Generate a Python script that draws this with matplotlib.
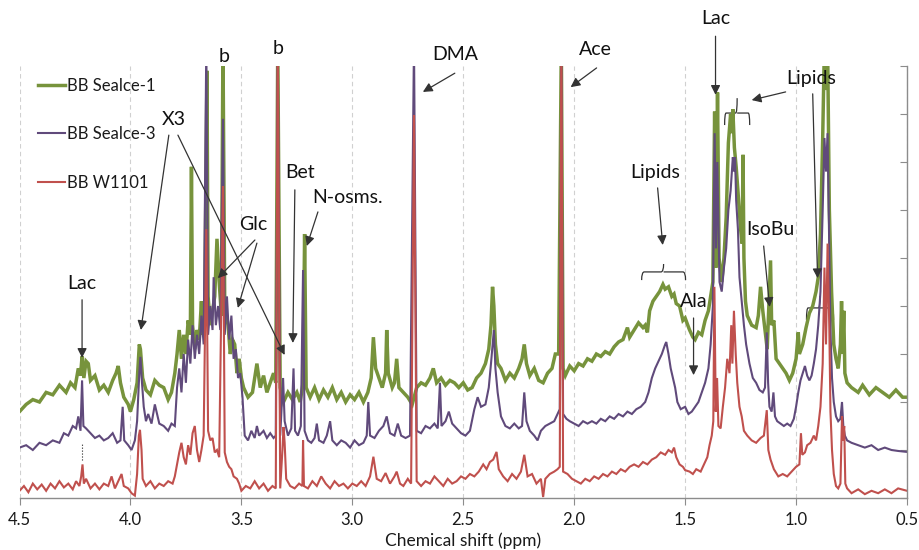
import matplotlib
matplotlib.use("Agg")
import matplotlib.pyplot as plt
from matplotlib.path import Path
from matplotlib.patches import PathPatch

plt.rcParams['font.family'] = ['Lato', 'DejaVu Sans']

# ---------------- data ----------------
series_names = ["BB Sealce-1", "BB Sealce-3", "BB W1101"]
series_colors = ["#77933C", "#604A7B", "#C0504D"]

green_ppm = [4.50, 4.47, 4.44, 4.41, 4.38, 4.35, 4.32, 4.29, 4.27, 4.25, 4.235, 4.225, 4.218, 4.21, 4.20, 4.19, 4.18,
             4.16, 4.14, 4.12, 4.10, 4.08, 4.065, 4.055, 4.045, 4.03, 4.01, 4.00, 3.985, 3.97, 3.96, 3.955, 3.945,
             3.93, 3.91, 3.89, 3.87, 3.85, 3.83, 3.815, 3.80, 3.79, 3.78, 3.77, 3.76, 3.75, 3.74, 3.73, 3.725, 3.72,
             3.71, 3.70, 3.69, 3.68, 3.675, 3.665, 3.655, 3.65, 3.64, 3.63, 3.62, 3.61, 3.60, 3.59, 3.583, 3.575,
             3.56, 3.55, 3.54, 3.53, 3.52, 3.51, 3.50, 3.49, 3.47, 3.45, 3.43, 3.415, 3.40, 3.385, 3.37, 3.355,
             3.345, 3.336, 3.325, 3.31, 3.29, 3.27, 3.25, 3.235, 3.222, 3.215, 3.208, 3.19, 3.17, 3.15, 3.13, 3.11,
             3.09, 3.07, 3.05, 3.03, 3.01, 2.99, 2.97, 2.95, 2.93, 2.915, 2.905, 2.895, 2.88, 2.865, 2.85, 2.845,
             2.838, 2.82, 2.81, 2.80, 2.79, 2.77, 2.75, 2.73, 2.71, 2.69, 2.67, 2.65, 2.635, 2.62, 2.60, 2.58,
             2.56, 2.54, 2.52, 2.50, 2.48, 2.46, 2.44, 2.42, 2.40, 2.385, 2.375, 2.368, 2.362, 2.355, 2.345, 2.33,
             2.31, 2.29, 2.27, 2.25, 2.235, 2.225, 2.215, 2.20, 2.18, 2.16, 2.14, 2.12, 2.10, 2.085, 2.07, 2.058,
             2.05, 2.04, 2.02, 2.00, 1.98, 1.96, 1.94, 1.92, 1.90, 1.88, 1.86, 1.84, 1.82, 1.80, 1.78, 1.76, 1.75,
             1.73, 1.71, 1.69, 1.68, 1.67, 1.66, 1.645, 1.63, 1.615, 1.60, 1.59, 1.575, 1.56, 1.55, 1.54, 1.525,
             1.51, 1.50, 1.48, 1.465, 1.455, 1.44, 1.425, 1.41, 1.395, 1.385, 1.375, 1.367, 1.361, 1.354, 1.347,
             1.335, 1.325, 1.315, 1.305, 1.295, 1.29, 1.285, 1.278, 1.27, 1.262, 1.25, 1.243, 1.239, 1.235, 1.228,
             1.22, 1.20, 1.18, 1.17, 1.16, 1.15, 1.14, 1.13, 1.115, 1.11, 1.10, 1.09, 1.075, 1.06, 1.045, 1.03,
             1.015, 1.00, 0.99, 0.985, 0.97, 0.955, 0.94, 0.925, 0.91, 0.90, 0.89, 0.88, 0.872, 0.865, 0.858,
             0.85, 0.84, 0.83, 0.82, 0.81, 0.80, 0.795, 0.79, 0.785, 0.78, 0.77, 0.75, 0.72, 0.70, 0.67, 0.64,
             0.61, 0.58, 0.55, 0.52, 0.50]
green_int = [1.80, 1.95, 2.05, 2.00, 2.20, 2.15, 2.35, 2.20, 2.40, 2.30, 2.70, 2.55, 2.95, 2.50, 2.85, 2.80, 2.45,
             2.55, 2.25, 2.35, 2.20, 2.45, 2.60, 2.75, 2.40, 2.10, 1.95, 1.80, 2.05, 2.40, 3.20, 3.10, 2.50,
             2.25, 2.15, 2.45, 2.35, 2.30, 2.05, 2.20, 2.60, 3.00, 3.50, 2.90, 3.40, 3.00, 3.70, 3.40, 6.90, 3.60,
             3.10, 3.50, 3.30, 4.10, 3.40, 4.00, 8.90, 4.20, 3.60, 3.90, 4.20, 5.40, 4.50, 3.80, 9.50, 4.00,
             3.60, 3.00, 3.30, 3.20, 2.60, 2.90, 2.50, 2.30, 2.10, 2.20, 2.80, 2.30, 2.55, 2.20, 2.40, 2.60,
             2.40, 9.50, 2.30, 2.00, 2.20, 2.05, 2.20, 2.00, 2.40, 5.50, 2.30, 2.10, 2.30, 2.05, 2.25, 2.10,
             2.30, 2.05, 2.20, 2.00, 2.15, 2.05, 2.20, 2.00, 2.20, 2.50, 3.35, 2.70, 2.50, 2.30, 2.60, 3.50,
             2.60, 2.30, 2.40, 2.90, 2.30, 2.20, 2.10, 1.95, 2.30, 2.40, 2.35, 2.50, 2.70, 2.40, 2.50, 2.35,
             2.45, 2.40, 2.30, 2.40, 2.25, 2.30, 2.50, 2.60, 2.80, 3.10, 3.60, 4.40, 4.00, 3.20, 2.80, 2.70,
             2.45, 2.60, 2.50, 2.70, 2.90, 3.20, 2.80, 2.55, 2.70, 2.45, 2.40, 2.60, 2.70, 3.00, 3.00, 9.50,
             2.70, 2.55, 2.75, 2.65, 2.80, 2.75, 2.90, 2.85, 3.00, 2.95, 3.05, 3.00, 3.15, 3.25, 3.30, 3.55, 3.35,
             3.50, 3.65, 3.55, 3.60, 3.45, 3.90, 4.10, 4.20, 4.30, 4.45, 4.35, 4.40, 4.20, 4.25, 4.05, 4.00,
             3.70, 3.75, 3.50, 3.35, 3.30, 3.45, 3.40, 3.70, 3.90, 4.20, 4.50, 8.05, 4.80, 8.45, 5.00,
             4.50, 5.00, 5.85, 7.40, 8.00, 7.60, 8.10, 7.30, 6.90, 6.40, 5.60, 5.30, 7.15, 5.00, 4.10,
             3.80, 3.60, 3.55, 3.80, 4.40, 3.90, 3.50, 3.10, 4.95, 3.60, 3.70, 2.90, 2.80, 2.70, 2.60, 2.45,
             2.60, 2.90, 3.45, 3.00, 3.20, 3.55, 3.85, 4.00, 4.30, 4.60, 5.50, 7.50, 9.50, 8.50, 9.50,
             6.00, 4.30, 3.20, 2.90, 2.70, 3.20, 4.10, 3.00, 3.90, 2.60, 2.40, 2.30, 2.20, 2.35, 2.15, 2.30,
             2.20, 2.10, 2.25, 2.10, 2.10]

purple_ppm = [4.50, 4.47, 4.44, 4.41, 4.38, 4.35, 4.32, 4.30, 4.28, 4.26, 4.245, 4.235, 4.225, 4.218, 4.212, 4.20,
              4.18, 4.16, 4.14, 4.12, 4.10, 4.08, 4.06, 4.045, 4.035, 4.028, 4.01, 3.995, 3.98, 3.97, 3.96, 3.955,
              3.948, 3.94, 3.93, 3.92, 3.905, 3.89, 3.87, 3.85, 3.83, 3.815, 3.80, 3.79, 3.78, 3.77, 3.76, 3.75,
              3.74, 3.73, 3.72, 3.71, 3.70, 3.69, 3.68, 3.67, 3.658, 3.65, 3.64, 3.63, 3.625, 3.615, 3.605, 3.595,
              3.583, 3.575, 3.565, 3.555, 3.545, 3.535, 3.525, 3.515, 3.505, 3.495, 3.485, 3.47, 3.455, 3.44,
              3.43, 3.42, 3.40, 3.385, 3.37, 3.355, 3.345, 3.336, 3.325, 3.312, 3.305, 3.29, 3.275, 3.265, 3.258,
              3.245, 3.232, 3.222, 3.215, 3.20, 3.185, 3.17, 3.16, 3.15, 3.13, 3.115, 3.10, 3.09, 3.07, 3.05,
              3.03, 3.01, 2.99, 2.97, 2.95, 2.935, 2.928, 2.92, 2.90, 2.88, 2.86, 2.845, 2.83, 2.81, 2.795, 2.78,
              2.76, 2.74, 2.722, 2.71, 2.69, 2.67, 2.65, 2.63, 2.615, 2.605, 2.598, 2.58, 2.565, 2.55, 2.53,
              2.51, 2.49, 2.47, 2.45, 2.435, 2.42, 2.40, 2.385, 2.375, 2.362, 2.355, 2.345, 2.33, 2.31, 2.29,
              2.27, 2.25, 2.235, 2.225, 2.215, 2.20, 2.18, 2.165, 2.15, 2.13, 2.11, 2.09, 2.075, 2.065, 2.058,
              2.05, 2.035, 2.02, 2.00, 1.98, 1.96, 1.94, 1.92, 1.90, 1.88, 1.86, 1.84, 1.82, 1.80, 1.78, 1.76,
              1.74, 1.72, 1.70, 1.68, 1.665, 1.65, 1.635, 1.62, 1.605, 1.59, 1.585, 1.575, 1.565, 1.555, 1.545,
              1.535, 1.52, 1.50, 1.485, 1.47, 1.455, 1.44, 1.425, 1.41, 1.395, 1.385, 1.375, 1.367, 1.361, 1.355,
              1.345, 1.335, 1.325, 1.315, 1.305, 1.295, 1.285, 1.28, 1.275, 1.27, 1.262, 1.255, 1.245, 1.235,
              1.225, 1.21, 1.195, 1.18, 1.165, 1.15, 1.14, 1.132, 1.126, 1.12, 1.11, 1.102, 1.095, 1.085, 1.07,
              1.055, 1.04, 1.025, 1.01, 1.00, 0.99, 0.98, 0.97, 0.96, 0.95, 0.94, 0.93, 0.92, 0.91, 0.90, 0.89,
              0.88, 0.872, 0.865, 0.858, 0.85, 0.845, 0.838, 0.83, 0.82, 0.81, 0.80, 0.793, 0.787, 0.78, 0.77,
              0.75, 0.72, 0.69, 0.66, 0.63, 0.60, 0.57, 0.54, 0.50]
purple_int = [1.05, 1.10, 1.00, 1.15, 1.10, 1.20, 1.15, 1.35, 1.30, 1.50, 1.45, 1.70, 1.40, 2.45, 1.50, 1.45,
              1.35, 1.25, 1.30, 1.20, 1.25, 1.35, 1.15, 1.20, 1.90, 1.20, 1.10, 1.00, 1.20, 1.60, 2.60, 2.94,
              2.40, 1.90, 1.60, 1.75, 1.55, 1.95, 1.55, 1.50, 1.40, 1.55, 1.50, 2.30, 2.70, 2.20, 3.00, 2.40,
              3.30, 2.80, 3.60, 2.90, 3.40, 3.00, 3.80, 3.20, 9.50, 3.40, 4.00, 3.50, 4.60, 3.60, 4.00, 3.50,
              7.90, 3.40, 4.20, 3.30, 3.80, 2.90, 3.10, 2.50, 2.60, 2.10, 1.30, 1.20, 1.40, 1.25,
              1.50, 1.30, 1.40, 1.25, 1.35, 1.25, 1.30, 9.50, 1.30, 2.50, 1.60, 1.30, 1.45, 2.70, 1.40,
              1.30, 1.50, 4.75, 1.40, 1.20, 1.15, 1.25, 1.55, 1.20, 1.15, 1.30, 1.60, 1.20, 1.10, 1.20,
              1.15, 1.05, 1.20, 1.10, 1.15, 1.30, 2.00, 1.30, 1.25, 1.40, 1.50, 1.70, 1.35, 1.30, 1.55, 1.30,
              1.25, 1.30, 9.50, 1.40, 1.35, 1.50, 1.45, 1.55, 1.45, 2.40, 1.50, 1.60, 1.80, 1.55, 1.45,
              1.35, 1.30, 1.40, 1.85, 2.10, 1.90, 1.95, 2.30, 2.80, 3.50, 2.70, 2.20, 1.70, 1.50, 1.45,
              1.55, 1.45, 1.50, 2.20, 1.60, 1.40, 1.30, 1.20, 1.40, 1.50, 1.55, 1.60, 1.75, 1.85, 9.50,
              1.75, 1.65, 1.60, 1.55, 1.50, 1.60, 1.55, 1.60, 1.55, 1.65, 1.60, 1.70, 1.65, 1.75, 1.70, 1.80,
              1.75, 1.85, 1.90, 2.00, 2.20, 2.50, 2.70, 2.85, 3.00, 3.20, 3.25, 3.00, 2.70, 2.50, 2.30,
              2.00, 1.85, 1.90, 1.75, 1.80, 1.90, 2.00, 2.20, 2.40, 2.70, 3.20, 4.00, 7.60, 5.20, 7.00,
              4.50, 4.30, 4.80, 5.20, 6.00, 6.40, 7.10, 6.80, 7.10, 6.20, 5.60, 4.60, 4.10, 3.60,
              3.20, 2.80, 2.50, 2.40, 2.25, 2.20, 2.30, 3.45, 2.40, 1.90, 1.80, 2.20, 1.70, 1.60, 1.55,
              1.50, 1.55, 1.50, 1.65, 1.90, 2.20, 2.45, 2.60, 2.75, 2.55, 2.45, 2.55, 2.80, 3.10, 3.60, 4.30,
              6.00, 7.50, 6.80, 7.60, 5.00, 3.50, 2.50, 2.00, 1.70, 1.60, 1.65, 2.00, 1.50, 1.30, 1.20,
              1.15, 1.10, 1.05, 1.10, 1.00, 1.05, 1.00, 0.98, 0.96]

red_ppm = [4.50, 4.48, 4.46, 4.44, 4.42, 4.40, 4.38, 4.36, 4.34, 4.32, 4.30, 4.28, 4.26, 4.245, 4.23, 4.222, 4.216,
           4.21, 4.20, 4.18, 4.16, 4.14, 4.12, 4.10, 4.085, 4.07, 4.055, 4.04, 4.03, 4.01, 3.995, 3.98, 3.97,
           3.962, 3.957, 3.95, 3.945, 3.93, 3.91, 3.89, 3.87, 3.85, 3.83, 3.81, 3.80, 3.79, 3.78, 3.77, 3.76,
           3.75, 3.74, 3.73, 3.72, 3.71, 3.70, 3.69, 3.68, 3.67, 3.658, 3.65, 3.64, 3.63, 3.62, 3.61, 3.60,
           3.583, 3.575, 3.565, 3.555, 3.545, 3.535, 3.52, 3.51, 3.50, 3.48, 3.46, 3.44, 3.42, 3.40, 3.38, 3.36,
           3.345, 3.336, 3.325, 3.315, 3.310, 3.305, 3.298, 3.28, 3.26, 3.24, 3.225, 3.222, 3.218, 3.20, 3.18,
           3.16, 3.14, 3.12, 3.10, 3.08, 3.06, 3.04, 3.02, 3.00, 2.98, 2.96, 2.94, 2.92, 2.905, 2.89, 2.87,
           2.85, 2.83, 2.81, 2.80, 2.785, 2.77, 2.75, 2.735, 2.722, 2.71, 2.69, 2.67, 2.65, 2.63, 2.61, 2.59,
           2.57, 2.55, 2.53, 2.51, 2.49, 2.47, 2.45, 2.43, 2.41, 2.395, 2.38, 2.365, 2.35, 2.34, 2.32, 2.30,
           2.28, 2.26, 2.24, 2.225, 2.21, 2.19, 2.17, 2.15, 2.14, 2.13, 2.11, 2.09, 2.075, 2.065, 2.058, 2.05,
           2.03, 2.01, 1.99, 1.97, 1.95, 1.93, 1.91, 1.89, 1.87, 1.85, 1.83, 1.81, 1.79, 1.77, 1.75, 1.73,
           1.71, 1.69, 1.67, 1.65, 1.63, 1.61, 1.59, 1.575, 1.56, 1.55, 1.54, 1.525, 1.51, 1.50, 1.48, 1.465,
           1.45, 1.43, 1.415, 1.40, 1.39, 1.38, 1.373, 1.368, 1.362, 1.356, 1.35, 1.34, 1.33, 1.32, 1.31, 1.30,
           1.292, 1.287, 1.28, 1.272, 1.265, 1.255, 1.245, 1.235, 1.22, 1.20, 1.18, 1.16, 1.145, 1.132, 1.125,
           1.115, 1.10, 1.08, 1.06, 1.04, 1.02, 1.00, 0.985, 0.978, 0.972, 0.96, 0.95, 0.935, 0.92, 0.91, 0.90,
           0.89, 0.88, 0.872, 0.865, 0.858, 0.85, 0.845, 0.838, 0.83, 0.82, 0.81, 0.80, 0.793, 0.788, 0.783,
           0.778, 0.77, 0.75, 0.72, 0.69, 0.66, 0.63, 0.60, 0.57, 0.54, 0.50]
red_int = [0.15, 0.25, 0.12, 0.30, 0.18, 0.28, 0.15, 0.30, 0.20, 0.35, 0.22, 0.30, 0.18, 0.35, 0.25, 0.45, 0.70,
           0.30, 0.40, 0.20, 0.30, 0.18, 0.30, 0.25, 0.45, 0.20, 0.35, 0.50, 0.25, 0.20, 0.10, 0.05, 0.50,
           1.30, 1.42, 1.00, 0.40, 0.25, 0.35, 0.20, 0.30, 0.25, 0.35, 0.30, 0.45, 0.70, 0.95, 1.15, 0.85,
           0.70, 1.10, 0.90, 1.35, 1.50, 1.00, 0.75, 1.00, 1.30, 5.60, 1.40, 1.20, 1.25, 0.95, 1.00, 0.85,
           6.50, 0.95, 0.75, 0.65, 0.60, 0.45, 0.40, 0.30, 0.15, 0.25, 0.20, 0.35, 0.20, 0.30, 0.15, 0.25,
           0.20, 9.50, 0.20, 1.00, 1.48, 1.15, 0.40, 0.25, 0.20, 0.30, 0.25, 1.20, 0.25, 0.20, 0.35,
           0.25, 0.45, 0.30, 0.20, 0.35, 0.25, 0.30, 0.20, 0.30, 0.25, 0.35, 0.25, 0.45, 0.86, 0.40, 0.35,
           0.52, 0.30, 0.45, 0.55, 0.30, 0.25, 0.40, 0.30, 7.98, 0.35, 0.25, 0.35, 0.30, 0.45, 0.35, 0.25,
           0.40, 0.30, 0.35, 0.45, 0.40, 0.50, 0.45, 0.55, 0.70, 0.60, 0.75, 0.80, 0.96, 0.60, 0.45, 0.35,
           0.50, 0.40, 0.55, 0.90, 0.45, 0.50, 0.30, 0.40, 0.02, 0.40, 0.50, 0.55, 0.60, 0.65, 9.50, 0.55,
           0.50, 0.40, 0.35, 0.30, 0.40, 0.35, 0.45, 0.40, 0.50, 0.45, 0.55, 0.50, 0.60, 0.55, 0.65, 0.70,
           0.65, 0.75, 0.70, 0.80, 0.85, 0.95, 0.90, 1.00, 0.95, 1.05, 0.85, 0.70, 0.65, 0.58, 0.55, 0.50,
           0.60, 0.55, 0.70, 0.85, 1.10, 1.30, 1.60, 4.40, 1.80, 2.50, 1.50, 1.45, 1.90, 2.30, 2.90, 2.60,
           3.60, 2.80, 3.90, 3.00, 2.40, 1.90, 1.70, 1.40, 1.30, 1.20, 1.15, 1.25, 1.30, 1.83, 1.00,
           0.80, 0.60, 0.45, 0.50, 0.45, 0.55, 0.65, 0.70, 1.35, 0.90, 0.95, 1.10, 1.15, 1.30, 1.20, 1.50,
           1.90, 2.80, 4.80, 3.20, 5.30, 3.50, 1.80, 1.00, 0.50, 0.25, 0.20, 0.30, 1.70, 1.20, 1.50,
           0.30, 0.20, 0.10, 0.18, 0.08, 0.15, 0.10, 0.18, 0.10, 0.20, 0.15]

x_ticks = [4.5, 4.0, 3.5, 3.0, 2.5, 2.0, 1.5, 1.0, 0.5]
x_tick_labels = ["4.5", "4.0", "3.5", "3.0", "2.5", "2.0", "1.5", "1.0", "0.5"]
x_label = "Chemical shift (ppm)"

# ---------------- figure ----------------
W, H = 919, 550
fig = plt.figure(figsize=(W / 100, H / 100), dpi=100)
ax = fig.add_axes([19.5 / W, 52 / H, (907 - 19.5) / W, (498 - 66) / H])

spine_col = "#8C8C8C"
ax.set_xlim(4.5, 0.5)
ax.set_ylim(0, 9)

ax.grid(axis="x", color="#D0D0D0", linestyle=(0, (4, 3)), linewidth=0.8)
ax.set_axisbelow(True)

widths = [2.5, 1.5, 1.5]
for ppm, inten, name, col, lw in zip([green_ppm, purple_ppm, red_ppm],
                                     [green_int, purple_int, red_int],
                                     series_names, series_colors, widths):
    ax.plot(ppm, inten, color=col, lw=lw, label=name, solid_joinstyle="miter")

# axes styling
for s in ["left", "top"]:
    ax.spines[s].set_visible(False)
for s in ["bottom", "right"]:
    ax.spines[s].set_color(spine_col)
    ax.spines[s].set_linewidth(1.0)
ax.set_xticks(x_ticks)
ax.set_xticklabels(x_tick_labels, fontsize=12)
ax.tick_params(axis="x", direction="out", length=5, color=spine_col, pad=5, labelcolor="#1a1a1a")
ax.yaxis.tick_right()
ax.set_yticks(range(10))
ax.tick_params(axis="y", direction="in", length=5, color=spine_col, labelright=False, labelleft=False)
ax.set_xlabel(x_label, fontsize=12.5, labelpad=3, color="#1a1a1a")

leg = ax.legend(loc="upper left", bbox_to_anchor=(12 / (907 - 19.5), 1 - 5 / 432), frameon=False,
                fontsize=12, handlelength=1.6, handletextpad=0.12, labelspacing=1.95, borderaxespad=0)
for t in leg.get_texts():
    t.set_color("#1a1a1a")

# ---------------- annotations ----------------
acol = "#333333"
fs = 14
arrow_kw = dict(arrowstyle="-|>", color=acol, lw=0.9, shrinkA=0, shrinkB=0, mutation_scale=14)


def label(txt, x, y):
    ax.text(x, y, txt, fontsize=fs, ha="center", va="center", color="#111111", clip_on=False)


def arrow(x0, y0, x1, y1):
    ax.annotate("", xy=(x1, y1), xytext=(x0, y0), arrowprops=arrow_kw, annotation_clip=False)


def brace(x_left, x_right, y, y_end, y_tip):
    xc = (x_left + x_right) / 2
    d = (x_left - x_right) * 0.06
    verts = [(x_left, y_end), (x_left, y), (x_left - d, y),
             (xc + d, y), (xc, y), (xc, y_tip), (xc, y), (xc - d, y),
             (x_right + d, y), (x_right, y), (x_right, y_end)]
    codes = [Path.MOVETO, Path.CURVE3, Path.CURVE3, Path.LINETO, Path.CURVE3, Path.CURVE3,
             Path.MOVETO, Path.CURVE3, Path.LINETO, Path.CURVE3, Path.CURVE3]
    ax.add_patch(PathPatch(Path(verts, codes), fill=False, edgecolor=acol, lw=0.9, clip_on=False))


label("Lac", 4.218, 4.46)
arrow(4.218, 4.13, 4.218, 2.92)
ax.plot([4.218, 4.218], [0.79, 1.15], color="#222222", lw=0.8, linestyle=":")

label("X3", 3.804, 7.88)
arrow(3.827, 7.56, 3.953, 3.50)
arrow(3.786, 7.56, 3.305, 2.98)

label("Glc", 3.448, 5.69)
arrow(3.439, 5.375, 3.606, 4.58)
arrow(3.430, 5.31, 3.516, 3.96)

label("b", 3.579, 9.19)
label("b", 3.336, 9.36)

label("Bet", 3.237, 6.79)
arrow(3.259, 6.42, 3.268, 3.23)

label("N-osms.", 3.020, 6.27)
arrow(3.155, 5.96, 3.205, 5.25)

label("DMA", 2.538, 9.23)
arrow(2.538, 8.85, 2.682, 8.46)

label("Ace", 1.903, 9.35)
arrow(1.899, 8.96, 2.016, 8.56)

label("Lipids", 1.633, 6.79)
arrow(1.624, 6.46, 1.601, 5.27)
brace(1.696, 1.498, 4.71, 4.54, 4.875)

label("Ala", 1.462, 4.10)
arrow(1.462, 3.75, 1.462, 2.56)

label("Lac", 1.363, 9.98)
arrow(1.363, 9.62, 1.363, 8.40)

label("Lipids", 0.930, 8.75)
arrow(1.047, 8.46, 1.200, 8.29)
arrow(0.925, 8.42, 0.903, 4.58)
brace(1.322, 1.209, 8.02, 7.77, 8.33)
brace(0.953, 0.831, 3.96, 3.71, 4.21)

label("IsoBu", 1.115, 5.60)
arrow(1.146, 5.25, 1.119, 3.98)

fig.savefig("out.png", dpi=100)
